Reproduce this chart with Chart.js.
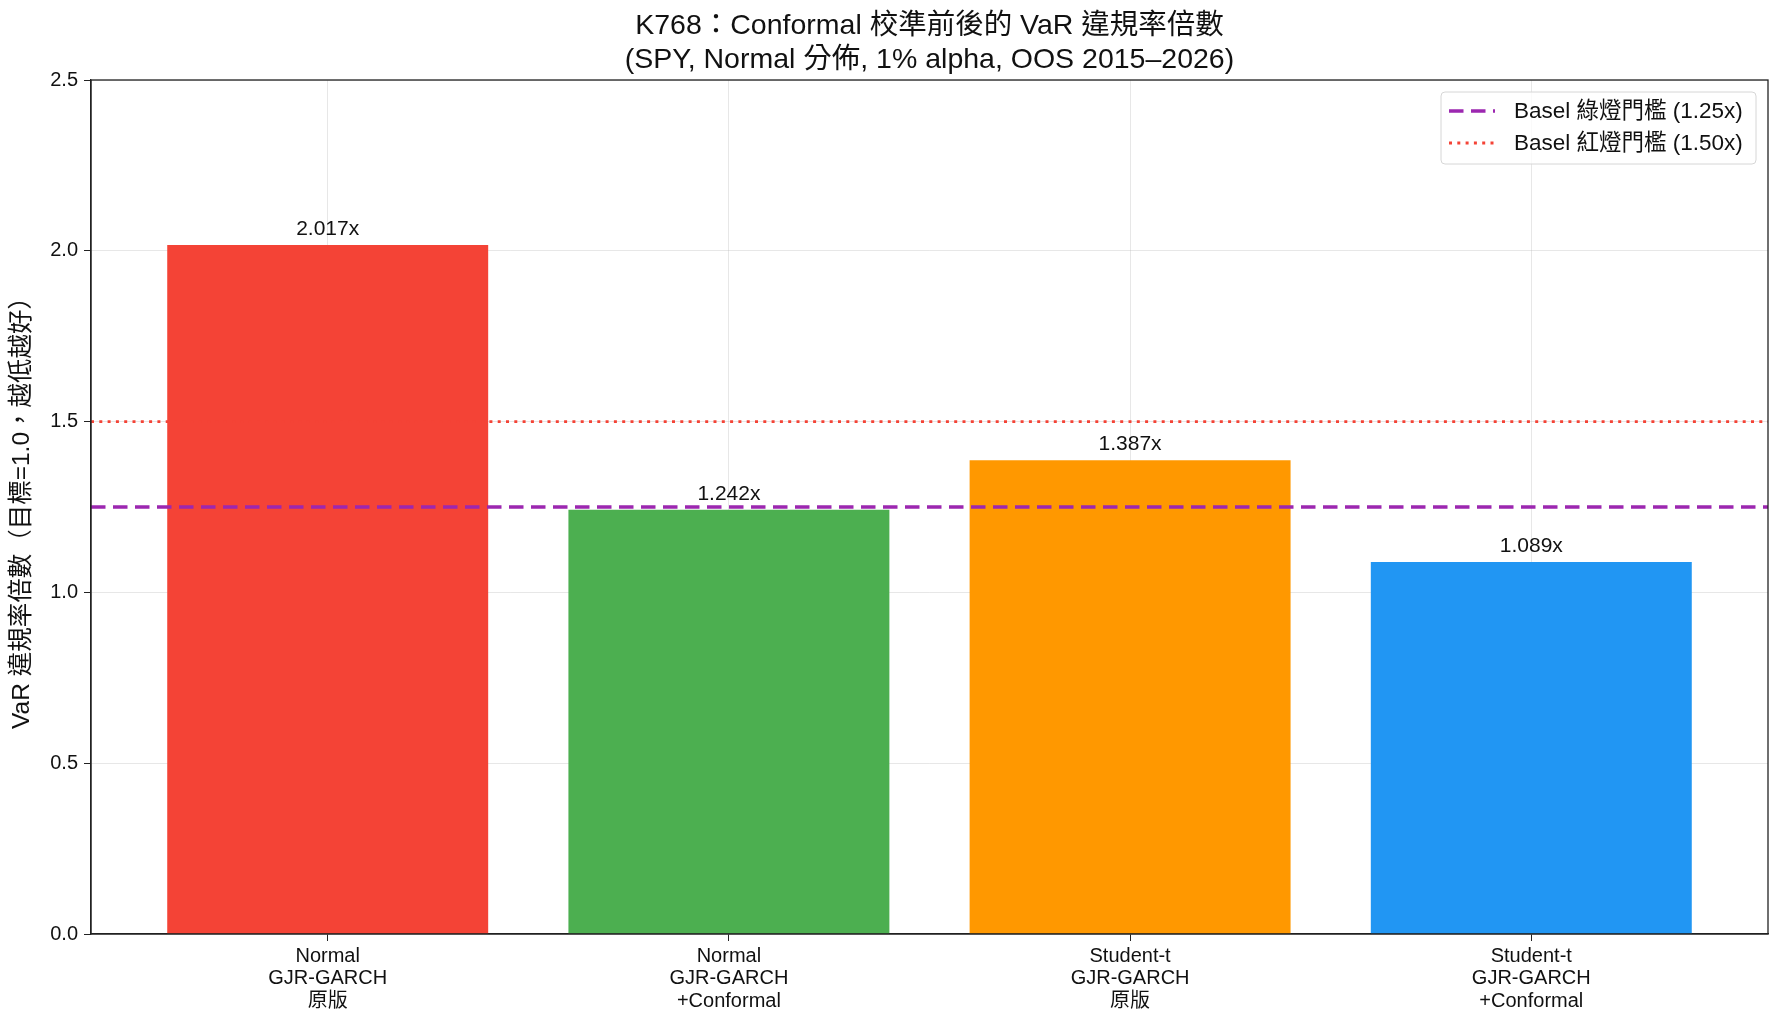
<!DOCTYPE html>
<html>
<head>
<meta charset="utf-8">
<script src="https://cdn.jsdelivr.net/npm/chart.js@4.4.1/dist/chart.umd.min.js"></script>
<style>
  html, body { margin: 0; padding: 0; background: #ffffff; }
  #wrap { width: 1783px; height: 1027px; }
</style>
</head>
<body>
<div id="wrap"><canvas id="barChart"></canvas></div>
<script>
// --- data ---
const categories = [
  ['Normal', 'GJR-GARCH', '原版'],
  ['Normal', 'GJR-GARCH', '+Conformal'],
  ['Student-t', 'GJR-GARCH', '原版'],
  ['Student-t', 'GJR-GARCH', '+Conformal']
];
const ratios = [2.017, 1.242, 1.387, 1.089];
const barColors = ['#f44336', '#4caf50', '#ff9800', '#2196f3'];
const yTicks = [0, 0.5, 1.0, 1.5, 2.0, 2.5];
const thresholdLabels = ['Basel 綠燈門檻 (1.25x)', 'Basel 紅燈門檻 (1.50x)'];
const thresholdValues = [1.25, 1.5];
const titleLines = ['K768：Conformal 校準前後的 VaR 違規率倍數', '(SPY, Normal 分佈, 1% alpha, OOS 2015–2026)'];

const X_MIN = -0.59, X_MAX = 3.59;
const FONT = "'Liberation Sans', 'Noto Sans CJK TC', sans-serif";
Chart.defaults.font.family = FONT;
Chart.defaults.color = '#111111';

// title centred over the plot area (like matplotlib ax.set_title)
const titlePlugin = {
  id: 'axTitle',
  afterDraw(chart) {
    const ctx = chart.ctx;
    const a = chart.chartArea;
    ctx.save();
    ctx.font = '28.5px ' + FONT;
    ctx.fillStyle = '#111111';
    ctx.textAlign = 'center';
    ctx.textBaseline = 'middle';
    titleLines.forEach((t, i) => ctx.fillText(t, (a.left + a.right) / 2, 26 + i * 34));
    ctx.restore();
  }
};

// bar value labels above each bar
const valueLabelPlugin = {
  id: 'valueLabels',
  afterDatasetsDraw(chart) {
    const ctx = chart.ctx;
    const meta = chart.getDatasetMeta(2);
    ctx.save();
    ctx.font = '21px ' + FONT;
    ctx.fillStyle = '#111111';
    ctx.textAlign = 'center';
    ctx.textBaseline = 'alphabetic';
    meta.data.forEach((bar, i) => {
      ctx.fillText(ratios[i].toFixed(3) + 'x', bar.x, bar.y - 10);
    });
    ctx.restore();
  }
};

// full box around the plot + matplotlib style legend
const frameLegendPlugin = {
  id: 'frameLegend',
  afterDraw(chart) {
    const ctx = chart.ctx;
    const a = chart.chartArea;
    ctx.save();
    ctx.strokeStyle = '#222222';
    ctx.lineWidth = 1.3;
    ctx.strokeRect(a.left, a.top, a.right - a.left, a.bottom - a.top);

    // legend frame
    const w = 315, h = 72;
    const lx = a.right - 12 - w, ly = a.top + 12;
    ctx.beginPath();
    ctx.roundRect(lx, ly, w, h, 4);
    ctx.fillStyle = 'rgba(255,255,255,0.8)';
    ctx.fill();
    ctx.strokeStyle = '#d6d6d6';
    ctx.lineWidth = 1;
    ctx.stroke();

    ctx.font = '22.5px ' + FONT;
    ctx.textBaseline = 'middle';
    ctx.textAlign = 'left';
    [0, 1].forEach(i => {
      const ds = chart.data.datasets[i];
      const y = ly + 19 + i * 32;
      ctx.beginPath();
      ctx.setLineDash(ds.borderDash);
      ctx.strokeStyle = ds.borderColor;
      ctx.lineWidth = ds.borderWidth;
      ctx.moveTo(lx + 8, y);
      ctx.lineTo(lx + 54, y);
      ctx.stroke();
      ctx.setLineDash([]);
      ctx.fillStyle = '#111111';
      ctx.fillText(ds.label, lx + 73, y + 1);
    });
    ctx.restore();
  }
};

const ctx = document.getElementById('barChart').getContext('2d');
const myBarChart = new Chart(ctx, {
  data: {
    datasets: [
      {
        type: 'line',
        label: thresholdLabels[0],
        data: [{ x: X_MIN, y: thresholdValues[0] }, { x: X_MAX, y: thresholdValues[0] }],
        borderColor: '#9c27b0',
        borderWidth: 3.6,
        borderDash: [14.5, 7.5],
        pointRadius: 0,
        order: 0
      },
      {
        type: 'line',
        label: thresholdLabels[1],
        data: [{ x: X_MIN, y: thresholdValues[1] }, { x: X_MAX, y: thresholdValues[1] }],
        borderColor: '#f44336',
        borderWidth: 2.8,
        borderDash: [3, 5.3],
        pointRadius: 0,
        order: 0
      },
      {
        type: 'bar',
        label: 'ratio',
        data: ratios.map((v, i) => ({ x: i, y: v })),
        backgroundColor: barColors,
        borderWidth: 0,
        barPercentage: 0.8,
        categoryPercentage: 1.0,
        order: 1
      }
    ]
  },
  options: {
    responsive: true,
    maintainAspectRatio: false,
    animation: false,
    layout: { padding: { left: 0, right: 15, top: 80, bottom: 0 } },
    plugins: {
      legend: { display: false },
      tooltip: { enabled: false },
      title: { display: false }
    },
    scales: {
      x: {
        type: 'linear',
        min: X_MIN,
        max: X_MAX,
        offset: false,
        z: 1,
        afterBuildTicks(scale) {
          scale.ticks = categories.map((_, i) => ({ value: i }));
        },
        afterFit(scale) { scale.height = 93; },
        ticks: {
          callback: (v) => categories[v],
          font: { size: 20, lineHeight: 1.13 },
          color: '#111111',
          padding: 4,
          maxRotation: 0,
          autoSkip: false
        },
        grid: { offset: false, color: 'rgba(176,176,176,0.3)', lineWidth: 1, tickColor: '#222222', tickLength: 7 },
        border: { display: true, color: '#222222', width: 1.3 }
      },
      y: {
        min: 0,
        max: 2.5,
        z: 1,
        afterBuildTicks(scale) {
          scale.ticks = yTicks.map(v => ({ value: v }));
        },
        afterFit(scale) { scale.width = 91; },
        ticks: {
          callback: (v) => v.toFixed(1),
          font: { size: 20 },
          color: '#111111',
          padding: 6
        },
        grid: { color: 'rgba(176,176,176,0.3)', lineWidth: 1, tickColor: '#222222', tickLength: 7 },
        border: { display: true, color: '#222222', width: 1.3 },
        title: {
          display: true,
          text: 'VaR 違規率倍數（目標=1.0，越低越好）',
          font: { size: 24.5 },
          color: '#111111',
          padding: { top: 8, bottom: 0 }
        }
      }
    }
  },
  plugins: [valueLabelPlugin, frameLegendPlugin, titlePlugin]
});
</script>
</body>
</html>
